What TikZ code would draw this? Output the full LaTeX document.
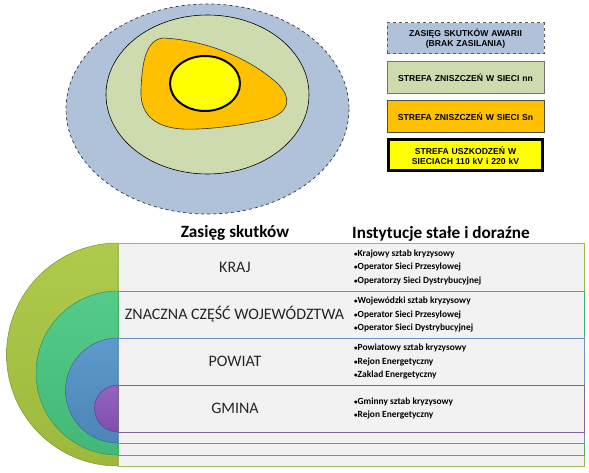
\documentclass[tikz,border=0pt]{standalone}
\usepackage{fontspec}
\setmainfont{Carlito}
\newfontfamily\arialf{Liberation Sans}
\usetikzlibrary{shadings}
\definecolor{zasieg}{HTML}{AFC2DA}
\definecolor{nnzone}{HTML}{CDDBAE}
\definecolor{snzone}{HTML}{FFC000}
\definecolor{hvzone}{HTML}{FFFF00}
\definecolor{rowgray}{HTML}{F2F2F2}
\definecolor{labelgray}{HTML}{262626}
\definecolor{limeA}{HTML}{AECB4C}
\definecolor{limeB}{HTML}{9CB93C}
\definecolor{greenA}{HTML}{55CB8A}
\definecolor{greenB}{HTML}{43B876}
\definecolor{blueA}{HTML}{5E9ACB}
\definecolor{blueB}{HTML}{4C85B8}
\definecolor{purpA}{HTML}{9464C2}
\definecolor{purpB}{HTML}{7E4FAA}
\definecolor{limeL}{HTML}{9BBB59}
\definecolor{greenL}{HTML}{4BAC6C}
\definecolor{blueL}{HTML}{6E8FBF}
\definecolor{purpL}{HTML}{8064A2}
\newcommand{\bul}{{\fontsize{7}{7}\selectfont•}}
\begin{document}
\begin{tikzpicture}[x=1pt,y=-1pt,
  legend/.style={minimum width=157pt, text width=152pt, align=center,
    font=\arialf\bfseries\fontsize{8.6}{10}\selectfont, inner sep=0pt},
  rowbox/.style={fill=rowgray, line width=0.9pt},
  rowlabel/.style={font=\fontsize{16}{18}\selectfont, text=labelgray, inner sep=0pt},
  bullets/.style={anchor=west, align=left, font=\bfseries\fontsize{9.4}{13.5}\selectfont, inner sep=0pt},
  header/.style={font=\bfseries\fontsize{17.2}{19}\selectfont, inner sep=0pt}]
\useasboundingbox (0,0) rectangle (589,473);
% --- top zones ---
\draw[fill=zasieg, draw=black!80, dashed, line width=0.7pt] (207.5,109) ellipse [x radius=141.5, y radius=105];
\draw[fill=nnzone, draw=black, line width=0.6pt] (207.5,94.5) ellipse [x radius=101.5, y radius=79.5];
\draw[fill=snzone, draw=black!80, line width=0.6pt]
  (163,38) .. controls (205,40) and (250,58) .. (278,84)
  .. controls (292,98) and (290,112) .. (268,119)
  .. controls (240,126) and (205,130) .. (182,129)
  .. controls (152,127) and (140,112) .. (141,90)
  .. controls (142,62) and (146,40) .. (163,38) -- cycle;
\draw[fill=hvzone, draw=black, line width=2pt] (205,83.5) ellipse [x radius=35, y radius=27.5];
% --- legend ---
\node[legend, draw=black!65, dashed, line width=1pt, fill=zasieg, minimum height=31pt] (l1) at (465.5,38.5) {ZASIĘG SKUTKÓW AWARII\\(BRAK ZASILANIA)};
\node[legend, draw=black!55, line width=1pt, fill=nnzone, minimum height=32pt] (l2) at (465.5,78) {STREFA ZNISZCZEŃ W SIECI nn};
\node[legend, draw=black!70, line width=1pt, fill=snzone, minimum height=32pt] (l3) at (465.5,117) {STREFA ZNISZCZEŃ W SIECI Sn};
\node[legend, draw=black, line width=3pt, fill=hvzone, minimum height=31pt, minimum width=154pt] (l4) at (465.5,155.5) {STREFA USZKODZEŃ W\\SIECIACH 110 kV i 220 kV};
% --- headers ---
\node[header] (h1) at (235,233) {Zasięg skutków};
\node[header] (h2) at (441,234) {Instytucje stałe i doraźne};
% --- rows with semicircles ---
\shade[top color=limeA, bottom color=limeB, draw=limeB!80!black, line width=0.5pt] (118,243) arc[start angle=270, end angle=90, radius=111.5] -- cycle;
\draw[rowbox, draw=limeL] (118,243) rectangle (584,466);
\shade[top color=greenA, bottom color=greenB, draw=greenB!80!black, line width=0.5pt] (118,291) arc[start angle=270, end angle=90, radius=82] -- cycle;
\draw[rowbox, draw=greenL] (118,291) rectangle (584,455);
\shade[top color=blueA, bottom color=blueB, draw=blueB!80!black, line width=0.5pt] (118,338) arc[start angle=270, end angle=90, radius=52.5] -- cycle;
\draw[rowbox, draw=blueL] (118,338) rectangle (584,443);
\shade[top color=purpA, bottom color=purpB, draw=purpB!80!black, line width=0.5pt] (118,385) arc[start angle=270, end angle=90, radius=23.5] -- cycle;
\draw[rowbox, draw=purpL] (118,385) rectangle (584,432);
% --- row labels ---
\node[rowlabel] (kraj) at (235,267) {KRAJ};
\node[rowlabel] (woj) at (234.5,314.5) {ZNACZNA CZĘŚĆ WOJEWÓDZTWA};
\node[rowlabel] (powiat) at (235,361.5) {POWIAT};
\node[rowlabel] (gmina) at (235,408.5) {GMINA};
% --- bullet lists ---
\node[bullets] (b1) at (354,267) {\bul Krajowy sztab kryzysowy\\\bul Operator Sieci Przesylowej\\\bul Operatorzy Sieci Dystrybucyjnej};
\node[bullets] (b2) at (354,314.5) {\bul Wojewódzki sztab kryzysowy\\\bul Operator Sieci Przesylowej\\\bul Operator Sieci Dystrybucyjnej};
\node[bullets] (b3) at (354,361.5) {\bul Powiatowy sztab kryzysowy\\\bul Rejon Energetyczny\\\bul Zaklad Energetyczny};
\node[bullets] (b4) at (354,408.5) {\bul Gminny sztab kryzysowy\\\bul Rejon Energetyczny};
\end{tikzpicture}
\end{document}
